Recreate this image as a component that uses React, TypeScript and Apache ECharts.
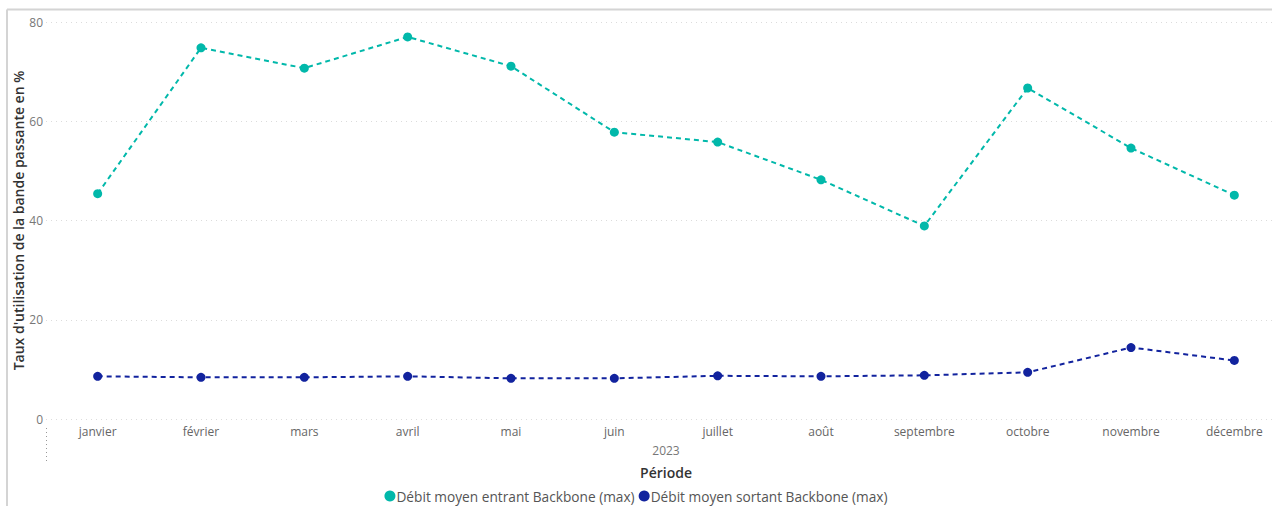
import React, { useEffect, useRef } from "react";
import * as echarts from "echarts";

const months = ["janvier", "février", "mars", "avril", "mai", "juin", "juillet", "août", "septembre", "octobre", "novembre", "décembre"];
const entrant = [45.4, 74.8, 70.7, 77.0, 71.1, 57.8, 55.8, 48.2, 38.9, 66.7, 54.6, 45.1];
const sortant = [8.6, 8.4, 8.4, 8.6, 8.2, 8.2, 8.7, 8.6, 8.8, 9.4, 14.4, 11.8];
const yTicks = [0, 20, 40, 60, 80];
const yearLabel = "2023";

export default function App() {
  const ref = useRef<HTMLDivElement>(null);
  useEffect(() => {
    document.body.style.margin = "0";
    const chart = echarts.init(ref.current!, null, { renderer: "svg" });
    const font = "'Open Sans', 'Noto Sans', sans-serif";
    chart.setOption({
      animation: false,
      textStyle: { fontFamily: font },
      grid: { left: 46, top: 22, width: 1240, height: 397, containLabel: false, outerBoundsMode: "none" },
      legend: {
        bottom: -2,
        left: "center",
        icon: "circle",
        itemWidth: 11,
        itemHeight: 11,
        itemGap: 4,
        textStyle: { color: "#555", fontSize: 13.7, fontFamily: font, padding: [0, 0, 0, -4] },
        data: ["Débit moyen entrant Backbone (max)", "Débit moyen sortant Backbone (max)"],
      },
      xAxis: {
        type: "category",
        data: months,
        boundaryGap: true,
        axisLine: { show: false },
        axisTick: { show: false },
        axisLabel: { color: "#666", fontSize: 12, margin: 6, fontFamily: font },
        name: "Période",
        nameLocation: "middle",
        nameGap: 46,
        nameMoveOverlap: false,
        nameTextStyle: { color: "#333", fontSize: 14, fontWeight: 600, fontFamily: font },
      },
      yAxis: {
        type: "value",
        min: yTicks[0],
        max: yTicks[yTicks.length - 1],
        interval: 20,
        axisLine: { show: false },
        axisTick: { show: false },
        axisLabel: { color: "#777", fontSize: 12, margin: 3, fontFamily: font },
        splitLine: { lineStyle: { color: "#dcdcdc", type: [1, 4], width: 1 } },
        name: "Taux d'utilisation de la bande passante en %",
        nameLocation: "middle",
        nameGap: 21,
        nameMoveOverlap: false,
        nameTextStyle: { color: "#333", fontSize: 14, fontWeight: 600, fontFamily: font },
      },
      series: [
        {
          name: "Débit moyen entrant Backbone (max)",
          type: "line",
          data: entrant,
          symbol: "circle",
          symbolSize: 9,
          itemStyle: { color: "#01B8AA" },
          lineStyle: { color: "#01B8AA", width: 2, type: [5, 4] },
        },
        {
          name: "Débit moyen sortant Backbone (max)",
          type: "line",
          data: sortant,
          symbol: "circle",
          symbolSize: 9,
          itemStyle: { color: "#12239E" },
          lineStyle: { color: "#12239E", width: 2, type: [5, 4] },
        },
      ],
      graphic: [
        { type: "line", shape: { x1: 7, y1: 9.5, x2: 1272, y2: 9.5 }, style: { stroke: "#d4d4d4", lineWidth: 2 } },
        { type: "line", shape: { x1: 7, y1: 9.5, x2: 7, y2: 506 }, style: { stroke: "#d4d4d4", lineWidth: 2 } },
        { type: "line", shape: { x1: 46.5, y1: 428, x2: 46.5, y2: 461 }, style: { stroke: "#999", lineWidth: 1, lineDash: [1, 3] } },
        {
          type: "text",
          x: 666,
          y: 450,
          style: { text: yearLabel, fill: "#777", fontSize: 12, fontFamily: font, textAlign: "center", textVerticalAlign: "middle" },
        },
      ],
    });
    return () => chart.dispose();
  }, []);
  return <div ref={ref} style={{ width: 1272, height: 506 }} />;
}
